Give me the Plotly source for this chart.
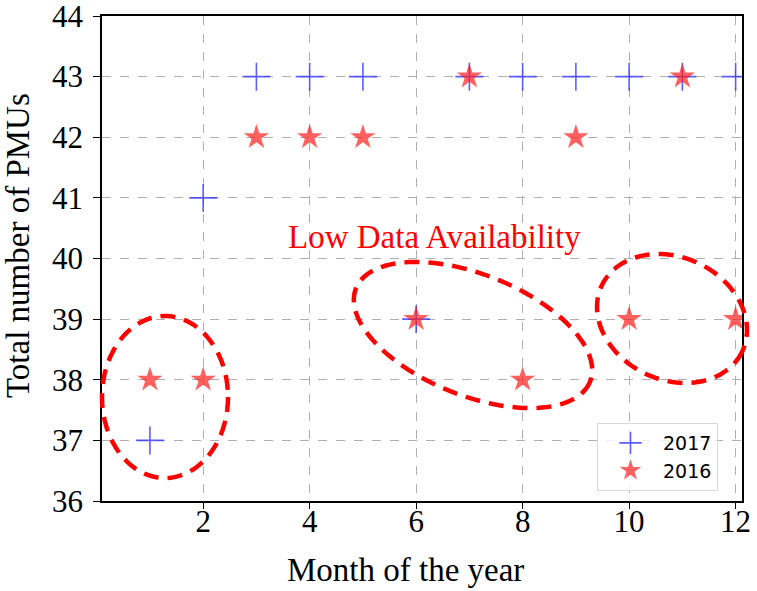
import numpy as np
import plotly.graph_objects as go

months = [1, 2, 3, 4, 5, 6, 7, 8, 9, 10, 11, 12]
pmu_2017 = [37, 41, 43, 43, 43, 39, 43, 43, 43, 43, 43, 43]
pmu_2016 = [38, 38, 42, 42, 42, 39, 43, 38, 42, 39, 43, 39]
x_ticks = [2, 4, 6, 8, 10, 12]
y_ticks = [36, 37, 38, 39, 40, 41, 42, 43, 44]

W, H = 757, 591
L, R, T, B = 102, 742, 16, 501  # plot area in pixels

SERIF = "Liberation Serif, Times New Roman, serif"


def px_to_paper(px, py):
    return (px - L) / (R - L), (B - py) / (B - T)


fig = go.Figure()
fig.add_trace(go.Scatter(
    x=months, y=pmu_2017, mode="markers", name="2017",
    marker=dict(symbol="cross-thin", size=20, color="rgba(40,40,255,0.75)",
                line=dict(width=1.6, color="rgba(40,40,255,0.75)")),
))
fig.add_trace(go.Scatter(
    x=months, y=pmu_2016, mode="markers", name="2016",
    marker=dict(symbol="star", size=19, color="rgba(255,30,30,0.7)",
                line=dict(width=0)),
))


def ellipse_path(cx, cy, a, b, theta_deg, n=120):
    th = np.deg2rad(theta_deg)
    t = np.linspace(0, 2 * np.pi, n)
    px = cx + a * np.cos(t) * np.cos(th) - b * np.sin(t) * np.sin(th)
    py = cy + a * np.cos(t) * np.sin(th) + b * np.sin(t) * np.cos(th)
    u, v = px_to_paper(px, py)
    pts = [f"{ui:.5f},{vi:.5f}" for ui, vi in zip(u, v)]
    return "M" + " L".join(pts) + " Z"


ellipses = [
    (165, 397, 63, 81, 0),
    (473, 335, 126, 60.6, 21.7),
    (672, 318.5, 77.6, 61.3, 24.8),
]
shapes = []
for cx, cy, a, b, th in ellipses:
    shapes.append(dict(
        type="path", xref="paper", yref="paper",
        path=ellipse_path(cx, cy, a, b, th),
        line=dict(color="red", width=4.5, dash="15px,9px"),
        layer="above",
    ))

lx, ly = px_to_paper(434, 237)
mx, my = px_to_paper(405, 570)
tx, ty = px_to_paper(18, 246)
gx, gy = px_to_paper(718, 491)

fig.update_layout(
    width=W, height=H,
    margin=dict(l=L, r=W - R, t=T, b=H - B, autoexpand=False),
    paper_bgcolor="white", plot_bgcolor="white",
    shapes=shapes,
    showlegend=True,
    legend=dict(
        x=gx, y=gy, xanchor="right", yanchor="bottom",
        bgcolor="rgba(255,255,255,0.8)", bordercolor="#d8d8d8", borderwidth=1,
        font=dict(family="DejaVu Sans", size=19, color="black"),
        itemsizing="trace", tracegroupgap=0, itemwidth=55,
    ),
    annotations=[
        dict(text="Low Data Availability", x=lx, y=ly,
             xref="paper", yref="paper", showarrow=False,
             xanchor="center", yanchor="middle",
             font=dict(family=SERIF, size=33, color="red")),
        dict(text="Month of the year", x=mx, y=my,
             xref="paper", yref="paper", showarrow=False,
             xanchor="center", yanchor="middle",
             font=dict(family=SERIF, size=33, color="black")),
        dict(text="Total number of PMUs", x=tx, y=ty, textangle=-90,
             xref="paper", yref="paper", showarrow=False,
             xanchor="center", yanchor="middle",
             font=dict(family=SERIF, size=33, color="black")),
    ],
)

fig.update_xaxes(
    range=[0.1, 12.12], tickvals=x_ticks, ticktext=[str(v) for v in x_ticks],
    showline=True, linecolor="black", linewidth=1.5, mirror=True,
    ticks="outside", ticklen=6, tickwidth=1.2, tickcolor="black",
    showgrid=True, gridcolor="#b0b0b0", griddash="dash", gridwidth=1,
    zeroline=False, automargin=False, ticklabeloverflow="allow",
    ticklabelstandoff=-14,
    tickfont=dict(family=SERIF, size=31, color="black"),
)
fig.update_yaxes(
    range=[36, 44], tickvals=y_ticks, ticktext=[str(v) for v in y_ticks],
    showline=True, linecolor="black", linewidth=1.5, mirror=True,
    ticks="outside", ticklen=7, tickwidth=1.2, tickcolor="black",
    showgrid=True, gridcolor="#b0b0b0", griddash="dash", gridwidth=1,
    zeroline=False, automargin=False, ticklabeloverflow="allow",
    ticklabelstandoff=4,
    tickfont=dict(family=SERIF, size=31, color="black"),
)

fig.write_html("out.html", config={"displayModeBar": False},
               post_script="document.body.style.margin='0';document.body.style.overflow='hidden';")
